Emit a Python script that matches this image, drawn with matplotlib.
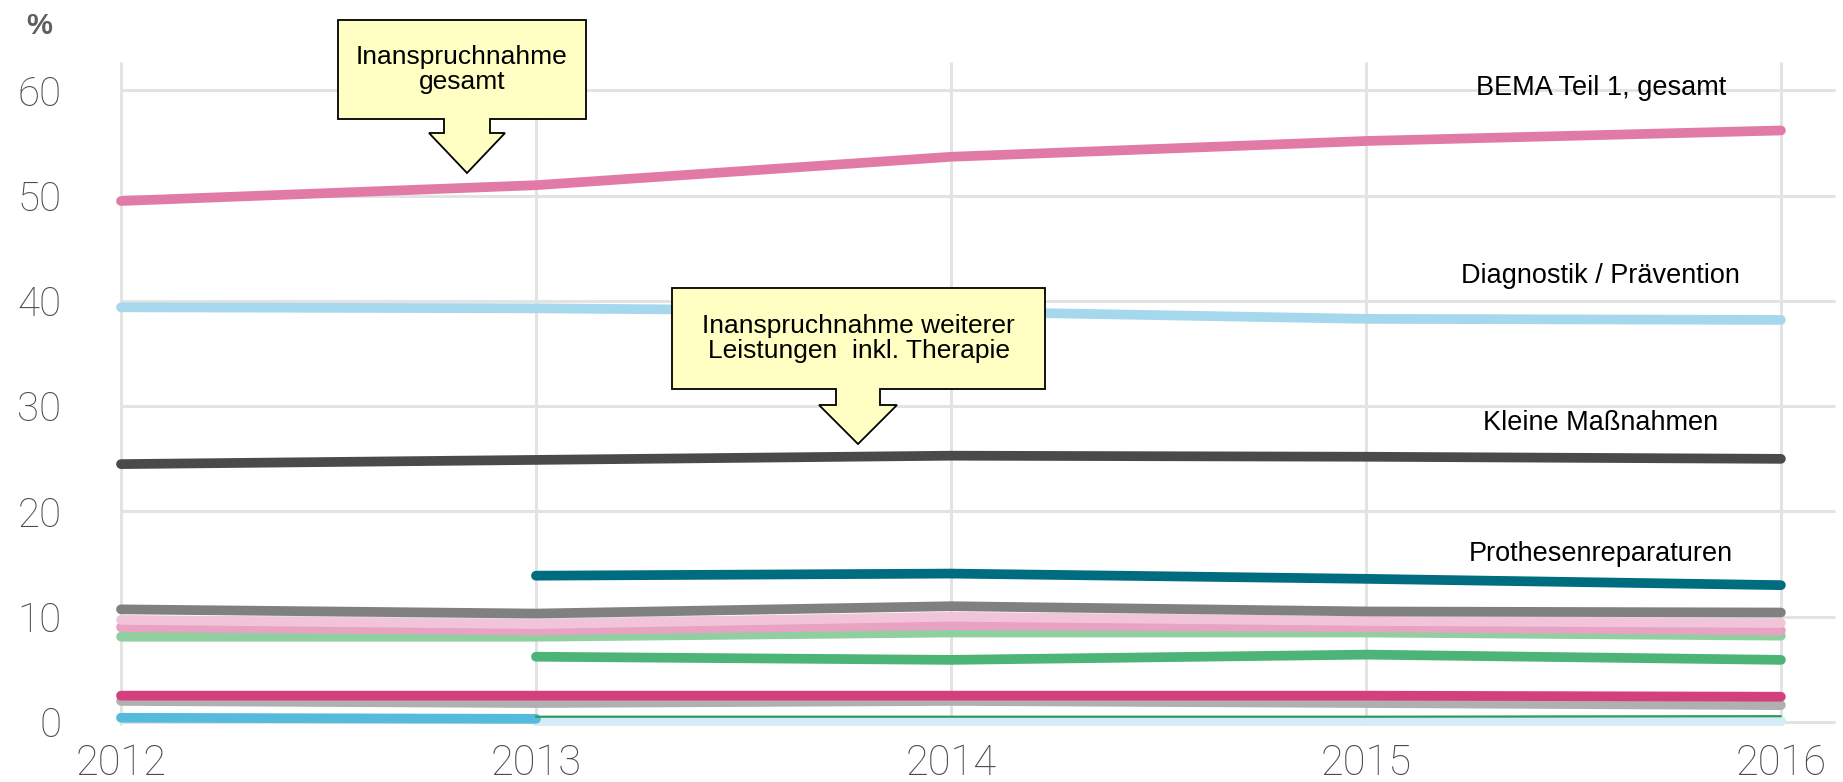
import numpy as np
import matplotlib
matplotlib.use('Agg')
import matplotlib.pyplot as plt
from matplotlib.patches import Polygon

plt.rcParams['font.family'] = ['Liberation Sans', 'DejaVu Sans']

# data (percent)
years = [2012, 2013, 2014, 2015, 2016]
nan = np.nan

bema_gesamt = [49.5, 51.0, 53.7, 55.2, 56.2]
diagnostik = [39.4, 39.3, 39.0, 38.3, 38.2]
kleine_massn = [24.5, 24.9, 25.3, 25.2, 25.0]
prothesen_rep = [nan, 13.9, 14.1, 13.6, 13.0]
grau = [10.7, 10.3, 11.0, 10.5, 10.4]
hellrosa = [9.7, 9.3, 10.0, 9.6, 9.4]
rosa = [9.0, 8.7, 9.2, 9.0, 8.7]
hellgruen = [8.1, 8.1, 8.5, 8.5, 8.2]
gruen = [nan, 6.2, 5.9, 6.4, 5.9]
magenta = [2.5, 2.5, 2.5, 2.5, 2.4]
hellgrau = [2.0, 1.8, 2.0, 1.8, 1.6]
blau = [0.4, 0.3, nan, nan, nan]
hellblau = [nan, 0.1, 0.1, 0.1, 0.1]
dunkelgruen = [nan, 0.5, 0.5, 0.5, 0.55]

series = [
    (hellblau, '#d3ecf7', 7),
    (blau, '#55bbdc', 7),
    (dunkelgruen, '#2e9a5c', 1.6),
    (hellgrau, '#b0b0b0', 7),
    (magenta, '#d43f7e', 7),
    (gruen, '#4db478', 7),
    (hellgruen, '#90d0a0', 7),
    (rosa, '#e8a2c2', 7),
    (hellrosa, '#f2c4da', 7),
    (grau, '#808080', 7),
    (prothesen_rep, '#006c80', 7),
    (kleine_massn, '#4a4a4a', 7),
    (diagnostik, '#a5d8ec', 7),
    (bema_gesamt, '#e27aa8', 7),
]

line_labels = ['BEMA Teil 1, gesamt', 'Diagnostik / Prävention',
               'Kleine Maßnahmen', 'Prothesenreparaturen']
label_y = [60.2, 42.4, 28.4, 16.0]
yticks = [0, 10, 20, 30, 40, 50, 60]

W, H = 1843, 782
fig = plt.figure(figsize=(W / 100, H / 100), dpi=100)
ax = fig.add_axes([79.5 / W, 0.0606, (1839 - 79.5) / W, 0.891])
ax.set_xlim(2011.9, 2016.14)
ax.set_ylim(-1.2, 65)
for s in ax.spines.values():
    s.set_visible(False)

# grid
ax.hlines(yticks, 2012, 2016.13, color='#e3e3e3', lw=2.2, zorder=0)
ax.vlines(years, -0.3, 62.7, color='#e3e3e3', lw=2.2, zorder=0)

for vals, col, lw in series:
    ax.plot(years, vals, color=col, lw=lw, solid_capstyle='round', zorder=2)

ax.set_xticks(years)
ax.set_yticks(yticks)
ax.tick_params(length=0, colors='#4a4a4a')
tick_font = ['Roboto', 'DejaVu Sans']
for t in ax.get_yticklabels():
    t.set_fontfamily(tick_font)
    t.set_fontsize(29)
    t.set_fontweight('light')
for t in ax.get_xticklabels():
    t.set_fontfamily(tick_font)
    t.set_fontsize(30)
    t.set_fontweight('light')
ax.tick_params(axis='y', pad=13)
ax.tick_params(axis='x', pad=6)

fig.text(39 / W, 1 - 26 / H, '%', fontsize=21, color='#5e5e5e',
         ha='center', va='center', fontweight='bold')

for txt, yv in zip(line_labels, label_y):
    ax.text(2015.566, yv, txt, fontsize=19.5, ha='center', va='center', color='black')


def callout(left, right, top, bottom, cx, shaft_hw, head_hw, head_top, tip, text):
    pts = [(left, top), (right, top), (right, bottom), (cx + shaft_hw, bottom),
           (cx + shaft_hw, head_top), (cx + head_hw, head_top), (cx, tip),
           (cx - head_hw, head_top), (cx - shaft_hw, head_top),
           (cx - shaft_hw, bottom), (left, bottom)]
    pts = [(x / W, 1 - y / H) for x, y in pts]
    fig.patches.append(Polygon(pts, closed=True, transform=fig.transFigure,
                               facecolor='#ffffc4', edgecolor='black', lw=1.3,
                               zorder=5))
    fig.text((left + right) / 2 / W, 1 - (top + bottom) / 2 / H, text,
             fontsize=19, ha='center', va='center', zorder=6,
             linespacing=1.1)


callout(338, 586, 20, 119, 467, 23, 38, 133, 173, 'Inanspruchnahme\ngesamt')
callout(672, 1045, 288, 389, 858, 22, 39, 405, 444,
        'Inanspruchnahme weiterer\nLeistungen  inkl. Therapie')

fig.savefig('out.png', dpi=100)
